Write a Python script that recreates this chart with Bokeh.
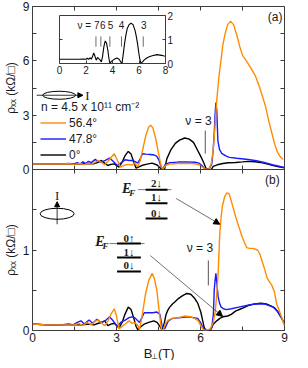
from bokeh.plotting import figure
from bokeh.layouts import column
from bokeh.models import (Range1d, FixedTicker, LinearAxis, Legend, LegendItem,
                          Arrow, NormalHead, Label)
from bokeh.embed import file_html
from bokeh.resources import INLINE

# ---------------- data (B in T, rho_xx in kOhm) ----------------
a_orange = [(0.0,0.30),(0.5,0.30),(1.0,0.30),(1.3,0.32),(1.5,0.28),(1.7,0.33),(1.85,0.27),(2.0,0.35),(2.1,0.30),(2.22,0.38),(2.35,0.50),(2.45,0.40),(2.58,0.26),(2.7,0.45),(2.8,0.65),(2.92,0.87),(3.02,0.55),(3.14,0.13),(3.25,0.22),(3.4,0.28),(3.55,0.25),(3.65,0.35),(3.76,0.15),(3.85,0.50),(3.95,1.20),(4.05,1.90),(4.15,2.35),(4.22,2.44),(4.3,2.30),(4.4,1.70),(4.5,0.90),(4.6,0.15),(4.66,0.03),(4.75,0.22),(4.9,0.30),(5.2,0.33),(5.5,0.34),(5.8,0.32),(5.95,0.26),(6.05,0.15),(6.15,0.02),(6.3,0.02),(6.38,0.30),(6.45,1.00),(6.52,2.40),(6.58,3.80),(6.65,5.00),(6.72,5.90),(6.8,6.90),(6.88,7.50),(6.97,8.00),(7.07,8.18),(7.18,8.00),(7.3,7.40),(7.4,6.80),(7.5,6.30),(7.64,6.00),(7.8,5.60),(7.95,5.20),(8.1,4.60),(8.2,4.10),(8.32,3.50),(8.45,2.60),(8.55,2.00),(8.65,1.40),(8.75,0.95),(8.85,0.70),(8.95,0.55)]
a_blue = [(0.0,0.30),(0.5,0.30),(1.0,0.31),(1.3,0.33),(1.45,0.30),(1.6,0.38),(1.7,0.30),(1.8,0.42),(1.9,0.33),(2.0,0.45),(2.1,0.38),(2.24,0.56),(2.35,0.42),(2.46,0.41),(2.6,0.50),(2.75,0.63),(2.88,0.45),(3.03,0.22),(3.15,0.35),(3.31,0.54),(3.45,0.50),(3.54,0.50),(3.65,0.45),(3.76,0.35),(3.85,0.60),(3.93,0.87),(4.05,0.85),(4.21,0.83),(4.35,0.80),(4.44,0.72),(4.52,0.50),(4.6,0.10),(4.66,0.05),(4.75,0.30),(4.9,0.38),(5.2,0.41),(5.5,0.42),(5.8,0.40),(5.95,0.35),(6.05,0.22),(6.15,0.03),(6.3,0.02),(6.4,0.30),(6.45,1.00),(6.49,2.00),(6.52,3.00),(6.55,3.70),(6.58,3.30),(6.62,1.60),(6.68,1.10),(6.76,0.89),(6.9,0.75),(7.03,0.67),(7.3,0.62),(7.7,0.55),(8.0,0.48),(8.27,0.39),(8.6,0.25),(8.8,0.18),(9.0,0.10)]
a_black = [(0.0,0.30),(0.5,0.30),(1.0,0.30),(1.5,0.30),(1.8,0.32),(2.0,0.33),(2.2,0.32),(2.35,0.40),(2.46,0.50),(2.58,0.35),(2.69,0.22),(2.8,0.28),(2.92,0.31),(3.09,0.13),(3.2,0.40),(3.3,0.75),(3.42,1.00),(3.52,0.85),(3.62,0.40),(3.7,0.07),(3.8,0.15),(3.9,0.22),(4.05,0.28),(4.27,0.35),(4.45,0.25),(4.55,0.10),(4.63,0.00),(4.72,0.05),(4.8,0.60),(4.93,1.05),(5.1,1.44),(5.25,1.62),(5.44,1.74),(5.6,1.68),(5.75,1.50),(5.9,1.05),(6.0,0.75),(6.08,0.50),(6.2,0.05),(6.3,0.00),(6.4,0.02),(6.45,0.17),(6.6,0.26),(6.8,0.33),(7.0,0.37),(7.26,0.39),(7.5,0.42),(7.7,0.45),(7.95,0.43),(8.14,0.39),(8.4,0.30),(8.6,0.22),(8.8,0.15),(9.0,0.10)]

b_orange = [(0.0,0.08),(0.5,0.07),(1.0,0.07),(1.5,0.07),(1.65,0.09),(1.79,0.06),(1.95,0.10),(2.1,0.07),(2.25,0.12),(2.35,0.13),(2.45,0.10),(2.58,0.06),(2.7,0.12),(2.8,0.20),(2.92,0.27),(3.0,0.18),(3.09,0.02),(3.2,0.05),(3.31,0.08),(3.45,0.12),(3.55,0.09),(3.65,0.10),(3.75,0.07),(3.82,0.01),(3.9,0.15),(4.04,0.46),(4.15,0.62),(4.27,0.71),(4.35,0.65),(4.44,0.50),(4.52,0.25),(4.6,0.02),(4.66,0.00),(4.75,0.09),(4.85,0.13),(5.0,0.15),(5.2,0.16),(5.45,0.18),(5.65,0.17),(5.79,0.15),(5.92,0.12),(6.01,0.06),(6.1,0.01),(6.2,0.00),(6.35,0.02),(6.45,0.10),(6.52,0.21),(6.58,0.45),(6.63,0.71),(6.69,1.21),(6.74,1.42),(6.78,1.54),(6.86,1.66),(6.94,1.71),(7.02,1.70),(7.09,1.62),(7.17,1.52),(7.25,1.42),(7.36,1.30),(7.48,1.17),(7.56,1.10),(7.65,1.03),(7.75,1.02),(7.87,1.02),(8.04,1.00),(8.12,0.95),(8.21,0.85),(8.3,0.75),(8.38,0.65),(8.47,0.60),(8.55,0.56),(8.64,0.48),(8.72,0.33),(8.8,0.26),(8.89,0.17),(9.0,0.06)]
b_blue = [(0.0,0.08),(0.5,0.07),(1.0,0.07),(1.3,0.08),(1.45,0.07),(1.6,0.10),(1.73,0.12),(1.85,0.08),(2.02,0.13),(2.15,0.09),(2.3,0.14),(2.45,0.10),(2.6,0.12),(2.75,0.17),(2.88,0.12),(3.03,0.05),(3.15,0.10),(3.31,0.13),(3.45,0.16),(3.54,0.17),(3.65,0.16),(3.82,0.10),(3.92,0.17),(3.99,0.22),(4.15,0.22),(4.3,0.22),(4.44,0.23),(4.55,0.20),(4.63,0.05),(4.72,0.02),(4.85,0.12),(5.0,0.15),(5.3,0.16),(5.56,0.17),(5.9,0.15),(6.0,0.10),(6.07,0.05),(6.15,0.00),(6.3,0.00),(6.4,0.03),(6.46,0.20),(6.49,0.50),(6.52,0.62),(6.55,0.71),(6.58,0.60),(6.63,0.42),(6.68,0.34),(6.74,0.29),(6.82,0.27),(6.92,0.26),(7.1,0.27),(7.37,0.29),(7.65,0.31),(7.93,0.33),(8.27,0.33),(8.45,0.31),(8.6,0.29),(8.72,0.25),(8.83,0.19),(8.92,0.14),(9.0,0.08)]
b_black = [(0.0,0.08),(0.5,0.07),(1.0,0.07),(1.5,0.07),(1.8,0.07),(2.0,0.08),(2.2,0.07),(2.35,0.09),(2.46,0.10),(2.58,0.12),(2.69,0.06),(2.8,0.08),(2.92,0.09),(3.09,0.03),(3.2,0.10),(3.3,0.20),(3.42,0.29),(3.52,0.26),(3.62,0.15),(3.7,0.05),(3.76,0.01),(3.85,0.04),(3.99,0.08),(4.15,0.10),(4.33,0.12),(4.45,0.10),(4.55,0.05),(4.63,0.00),(4.7,0.08),(4.77,0.20),(4.83,0.25),(4.9,0.29),(5.0,0.33),(5.1,0.36),(5.22,0.40),(5.35,0.43),(5.51,0.46),(5.65,0.45),(5.79,0.40),(5.9,0.34),(6.01,0.23),(6.08,0.12),(6.13,0.04),(6.2,0.00),(6.35,0.00),(6.46,0.08),(6.58,0.12),(6.69,0.15),(6.8,0.17),(6.97,0.18),(7.1,0.20),(7.25,0.24),(7.45,0.27),(7.7,0.31),(7.95,0.33),(8.15,0.34),(8.35,0.33),(8.49,0.31),(8.65,0.28),(8.77,0.23),(8.9,0.15),(9.0,0.08)]

inset_black = [(0.0,0.18),(0.5,0.18),(1.0,0.18),(1.5,0.18),(1.8,0.19),(2.0,0.18),(2.1,0.22),(2.2,0.17),(2.3,0.24),(2.4,0.18),(2.5,0.30),(2.58,0.44),(2.68,0.30),(2.77,0.14),(2.87,0.25),(2.96,0.20),(3.06,0.15),(3.16,0.07),(3.25,0.30),(3.35,0.70),(3.45,0.94),(3.55,0.85),(3.65,0.55),(3.72,0.25),(3.8,0.00),(3.9,0.08),(4.04,0.14),(4.2,0.20),(4.33,0.23),(4.5,0.18),(4.62,0.07),(4.72,0.00),(4.8,0.35),(4.91,0.83),(5.0,1.15),(5.11,1.45),(5.25,1.62),(5.4,1.68),(5.55,1.62),(5.7,1.38),(5.8,1.12),(5.89,0.83),(5.97,0.50),(6.05,0.21),(6.15,0.00),(6.25,0.06),(6.38,0.14),(6.55,0.22),(6.77,0.28),(7.0,0.32),(7.36,0.37),(7.7,0.34),(7.95,0.30)]
inset_nu_B = [2.75, 3.12, 3.8, 4.68, 6.32]
inset_nu_text = ["7", "6", "5", "4", "3"]

angles = ["56.4°", "47.8°", "0°"]
x_ticks = [0, 3, 6, 9]
x_minor = [1.5, 4.5, 7.5]
x_all = [0, 1.5, 3, 4.5, 6, 7.5, 9]
ya_ticks = [0, 3, 6, 9]
ya_minor = [1.5, 4.5, 7.5]
yb_ticks = [0, 1]
yb_minor = [0.5, 1.5]
inset_x_ticks = [0, 2, 4, 6, 8]
inset_y_ticks = [0, 1, 2]

# ---------------- style ----------------
SANS = "Liberation Sans"
SERIF = "Liberation Serif"
ORANGE = "#ff8c00"
BLUE = "#1a1aff"
BLACK = "#000000"
FRAME = "#3c3c3c"
TXT = "#1a1a1a"


def xy(pairs):
    return [p[0] for p in pairs], [p[1] for p in pairs]


def add_axis(p, side, ticks, minor=(), size="12px", tick=4, standoff=4, **kw):
    ax = LinearAxis(ticker=FixedTicker(ticks=list(ticks), minor_ticks=list(minor)),
                    axis_line_color=None,
                    major_tick_in=tick, major_tick_out=0,
                    minor_tick_in=tick, minor_tick_out=0,
                    major_tick_line_color=FRAME, minor_tick_line_color=FRAME,
                    major_label_text_font=SANS, major_label_text_color=TXT,
                    major_label_text_font_size=size, major_label_standoff=standoff, **kw)
    p.add_layout(ax, side)
    return ax


def tick_only_axis(p, side, positions, tick=4):
    ax = LinearAxis(ticker=FixedTicker(ticks=[], minor_ticks=list(positions)),
                    axis_line_color=None, major_tick_in=0, major_tick_out=0,
                    minor_tick_in=tick, minor_tick_out=0, minor_tick_line_color=FRAME,
                    major_label_standoff=0)
    p.add_layout(ax, side)
    return ax


def base_fig(width, height, xr, yr, l, r, t, b, **kw):
    p = figure(width=width, height=height, x_range=xr, y_range=yr,
               output_backend="svg", toolbar_location=None,
               x_axis_location=None, y_axis_location=None,
               min_border_left=l, min_border_right=r, min_border_top=t, min_border_bottom=b,
               background_fill_color="white", border_fill_color=None,
               outline_line_color=FRAME, outline_line_width=1, **kw)
    p.grid.visible = False
    return p


def lab(p, x, y, text, size="12px", font=SANS, align="left", baseline="middle", style="normal", color=TXT):
    p.add_layout(Label(x=x, y=y, text=text, text_font=font, text_font_size=size,
                       text_align=align, text_baseline=baseline, text_font_style=style,
                       text_color=color))


xrange = Range1d(0, 9)
YLABEL = "ρₓₓ (kΩ/□)"
YLAB_KW = dict(axis_label=YLABEL, axis_label_text_font=SANS, axis_label_text_font_size="12px",
               axis_label_text_font_style="normal", axis_label_text_color=TXT, axis_label_standoff=2)

# ---------------- panel (a) ----------------
pa = base_fig(300, 177, xrange, Range1d(0, 9), 26, 9, 6, 8)
add_axis(pa, "left", ya_ticks, ya_minor, standoff=3, **YLAB_KW)
tick_only_axis(pa, "right", [1.5, 3, 4.5, 6, 7.5])
tick_only_axis(pa, "above", x_all)
tick_only_axis(pa, "below", x_all)

bx, by = xy(a_black)
r_a_black = pa.line(bx, by, line_color=BLACK, line_width=1.4)
bx, by = xy(a_blue)
r_a_blue = pa.line(bx, by, line_color=BLUE, line_width=1.4)
bx, by = xy(a_orange)
r_a_orange = pa.line(bx, by, line_color=ORANGE, line_width=1.4)

leg = Legend(items=[LegendItem(label=angles[0], renderers=[r_a_orange]),
                    LegendItem(label=angles[1], renderers=[r_a_blue]),
                    LegendItem(label=angles[2], renderers=[r_a_black])],
             location=(8, 7), border_line_color=None, background_fill_alpha=0,
             padding=0, margin=0, spacing=1, label_height=15, glyph_height=15,
             glyph_width=26, label_standoff=3, label_text_font=SANS,
             label_text_font_size="12px", label_text_color=TXT)
pa.add_layout(leg)

# current direction symbol (a)
pa.ellipse(x=[0.95], y=[4.1], width=33, height=8, width_units="screen", height_units="screen",
           fill_color=None, line_color=BLACK, line_width=1)
pa.add_layout(Arrow(end=NormalHead(size=5, fill_color=BLACK, line_color=BLACK), x_start=0.15, y_start=4.1,
                    x_end=1.8, y_end=4.1, line_width=0.8, line_color=BLACK))
lab(pa, 1.88, 4.1, "I", size="13px", font=SERIF)
lab(pa, 0.3, 3.44, "n = 4.5 x 10¹¹ cm⁻²", size="12px")
lab(pa, 8.93, 8.4, "(a)", size="12px", align="right")
lab(pa, 5.93, 2.7, "ν = 3", size="12px", align="center")
pa.segment(x0=[6.17], y0=[0.88], x1=[6.17], y1=[2.15], line_color="#555555", line_width=1)

# ---------------- panel (b) ----------------
pb = base_fig(300, 178, xrange, Range1d(0, 2), 26, 9, 1, 16, margin=(-9, 0, 0, 0))
add_axis(pb, "left", yb_ticks, yb_minor, standoff=3, **YLAB_KW)
tick_only_axis(pb, "right", [0.5, 1, 1.5])
tick_only_axis(pb, "above", x_all)
add_axis(pb, "below", x_ticks, x_minor, standoff=2)

bx, by = xy(b_black)
pb.line(bx, by, line_color=BLACK, line_width=1.4)
bx, by = xy(b_blue)
pb.line(bx, by, line_color=BLUE, line_width=1.4)
bx, by = xy(b_orange)
pb.line(bx, by, line_color=ORANGE, line_width=1.4)

lab(pb, 8.83, 1.87, "(b)", size="12px", align="right")

# current direction symbol (b)
pb.ellipse(x=[0.88], y=[1.45], width=34, height=11, width_units="screen", height_units="screen",
           fill_color=None, line_color=BLACK, line_width=1)
pb.add_layout(Arrow(end=NormalHead(size=5, fill_color=BLACK, line_color=BLACK), x_start=0.88, y_start=1.32,
                    x_end=0.88, y_end=1.6, line_width=0.8, line_color=BLACK))
lab(pb, 0.88, 1.68, "I", size="13px", font=SERIF, align="center")

# Landau-level diagrams
lab(pb, 3.36, 1.76, "E", size="14px", font=SERIF, style="bold italic", align="center")
lab(pb, 3.56, 1.71, "F", size="9px", font=SERIF, style="bold italic", align="center")
pb.segment(x0=[3.77], y0=[1.75], x1=[4.96], y1=[1.75], line_color="#555555", line_width=0.8)
pb.segment(x0=[4.04, 4.04, 4.04], y0=[1.75, 1.58, 1.39], x1=[4.82, 4.82, 4.82],
           y1=[1.75, 1.58, 1.39], line_color=BLACK, line_width=2)
lab(pb, 4.43, 1.83, "2↓", size="11px", font=SERIF, style="bold", align="center")
lab(pb, 4.43, 1.655, "1↓", size="11px", font=SERIF, style="bold", align="center")
lab(pb, 4.43, 1.465, "0↓", size="11px", font=SERIF, style="bold", align="center")
pb.add_layout(Arrow(end=NormalHead(size=6, fill_color=BLACK, line_color=BLACK), x_start=5.13, y_start=1.64,
                    x_end=6.69, y_end=1.32, line_width=0.7, line_color="#333333"))

lab(pb, 2.41, 1.105, "E", size="14px", font=SERIF, style="bold italic", align="center")
lab(pb, 2.61, 1.055, "F", size="9px", font=SERIF, style="bold italic", align="center")
pb.segment(x0=[2.75], y0=[1.08], x1=[4.0], y1=[1.08], line_color="#555555", line_width=0.8)
pb.segment(x0=[3.02, 3.02, 3.02], y0=[1.08, 0.907, 0.733], x1=[3.87, 3.87, 3.87],
           y1=[1.08, 0.907, 0.733], line_color=BLACK, line_width=2)
lab(pb, 3.45, 1.155, "0↑", size="11px", font=SERIF, style="bold", align="center")
lab(pb, 3.45, 0.98, "1↓", size="11px", font=SERIF, style="bold", align="center")
lab(pb, 3.45, 0.81, "0↓", size="11px", font=SERIF, style="bold", align="center")
pb.add_layout(Arrow(end=NormalHead(size=6, fill_color=BLACK, line_color=BLACK), x_start=4.21, y_start=0.93,
                    x_end=6.79, y_end=0.175, line_width=0.7, line_color="#333333"))

lab(pb, 5.98, 1.03, "ν = 3", size="12px", align="center")
pb.segment(x0=[6.28], y0=[0.56], x1=[6.28], y1=[0.87], line_color="#555555", line_width=1)

# ---------------- x axis title strip ----------------
pc = figure(width=300, height=14, x_range=xrange, y_range=Range1d(0, 1),
            output_backend="svg", toolbar_location=None,
            x_axis_location=None, y_axis_location=None,
            min_border_left=26, min_border_right=9, min_border_top=0, min_border_bottom=0,
            background_fill_color=None, border_fill_color=None, outline_line_color=None)
pc.grid.visible = False
lab(pc, 3.97, 0.5, "B", size="13px")
lab(pc, 4.22, 0.3, "⊥", size="8px")
lab(pc, 4.48, 0.5, "(T)", size="13px")

# ---------------- inset ----------------
pi = base_fig(154, 71, Range1d(0, 8), Range1d(0, 2), 2, 16, 7, 16,
              styles={"position": "absolute", "left": "27px", "top": "8px", "z-index": "10"})
pi.background_fill_color = None
add_axis(pi, "below", inset_x_ticks, size="10px", tick=3, standoff=2)
add_axis(pi, "right", inset_y_ticks, size="10px", tick=3, standoff=2)
tick_only_axis(pi, "left", [1], tick=3)
bx, by = xy(inset_black)
pi.line(bx, by, line_color=BLACK, line_width=1.1)
pi.segment(x0=inset_nu_B, y0=[0.7] * 5, x1=inset_nu_B, y1=[1.13] * 5, line_color="#444444", line_width=0.8)
lab(pi, 3.02, 1.6, "ν = " + inset_nu_text[0], size="10px", align="right")
for b, t in zip([3.27, 3.85, 4.68, 6.36], inset_nu_text[1:]):
    lab(pi, b, 1.6, t, size="10px", align="center")

layout = column(pa, pb, pc, pi, spacing=0)
open("out.html", "w").write(file_html(layout, INLINE))
